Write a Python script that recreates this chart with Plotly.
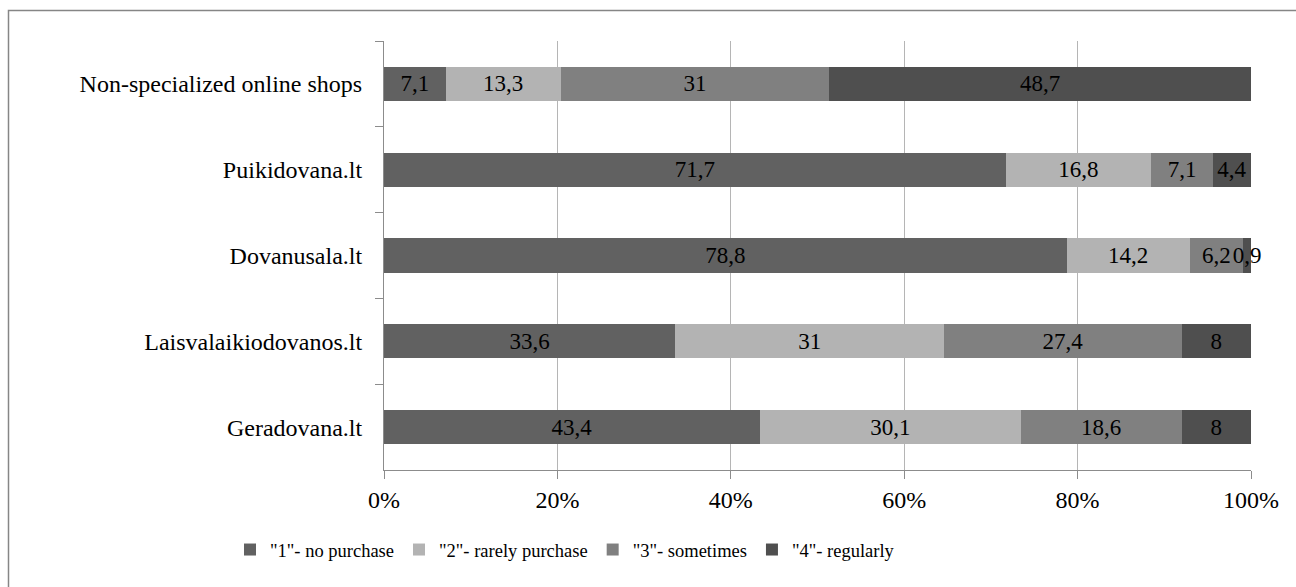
import plotly.graph_objects as go

categories = ["Non-specialized online shops", "Puikidovana.lt", "Dovanusala.lt",
              "Laisvalaikiodovanos.lt", "Geradovana.lt"]
series_names = ['"1"- no purchase', '"2"- rarely purchase', '"3"- sometimes', '"4"- regularly']
no_purchase = [7.1, 71.7, 78.8, 33.6, 43.4]
rarely = [13.3, 16.8, 14.2, 31, 30.1]
sometimes = [31, 7.1, 6.2, 27.4, 18.6]
regularly = [48.7, 4.4, 0.9, 8, 8]
colors = ["#616161", "#b3b3b3", "#808080", "#4f4f4f"]
x_ticks = [0, 20, 40, 60, 80, 100]
x_tick_labels = ["0%", "20%", "40%", "60%", "80%", "100%"]

FONT = "Liberation Serif"
FS_BAR = 23
FS_AX = 24
FS_LEG = 18.5

fig = go.Figure()
for name, vals, col in zip(series_names, [no_purchase, rarely, sometimes, regularly], colors):
    fig.add_trace(go.Bar(
        y=categories, x=vals, name=name, orientation="h",
        marker=dict(color=col, line=dict(width=0)),
        text=[f"{v:g}".replace(".", ",") for v in vals],
        textposition="inside", insidetextanchor="middle", textangle=0,
        textfont=dict(family=FONT, size=FS_BAR, color="#000000"),
        cliponaxis=False,
    ))

W, H = 1296, 587
L, R, T, B = 384, 45, 41, 117
pw, ph = W - L - R, H - T - B

def px2x(px):
    return (px - L) / pw

def py2y(py):
    return (H - B - py) / ph

fig.update_layout(
    width=W, height=H,
    barmode="stack", barnorm="percent", bargap=0.6,
    margin=dict(l=L, r=R, t=T, b=B),
    paper_bgcolor="white", plot_bgcolor="white",
    font=dict(family=FONT, size=FS_AX, color="#000000"),
    uniformtext=dict(minsize=FS_BAR, mode="show"),
    legend=dict(orientation="h", x=px2x(230), xanchor="left", y=py2y(550), yanchor="middle",
                font=dict(family=FONT, size=FS_LEG, color="#000000"), traceorder="normal",
                itemwidth=30, tracegroupgap=0),
    xaxis=dict(range=[0, 100], tickmode="array", tickvals=x_ticks, ticktext=x_tick_labels,
               showgrid=True, gridcolor="#b5b5b5", gridwidth=1,
               showline=True, linecolor="#8c8c8c", linewidth=1,
               ticks="outside", ticklen=8, tickcolor="#8c8c8c",
               tickfont=dict(family=FONT, size=FS_AX, color="#000000"), zeroline=False),
    yaxis=dict(autorange="reversed", tickson="boundaries", showgrid=False,
               showline=True, linecolor="#8c8c8c", linewidth=1,
               ticks="outside", ticklen=8, tickcolor="#8c8c8c",
               tickfont=dict(family=FONT, size=FS_AX, color="#000000"), ticklabelstandoff=16),
    shapes=[dict(type="rect", xref="paper", yref="paper",
                 x0=px2x(8.5), x1=px2x(1310), y0=py2y(600), y1=py2y(10.5),
                 line=dict(color="#868686", width=1.5), fillcolor="rgba(0,0,0,0)", layer="below")],
)

fig.write_html("out.html")
